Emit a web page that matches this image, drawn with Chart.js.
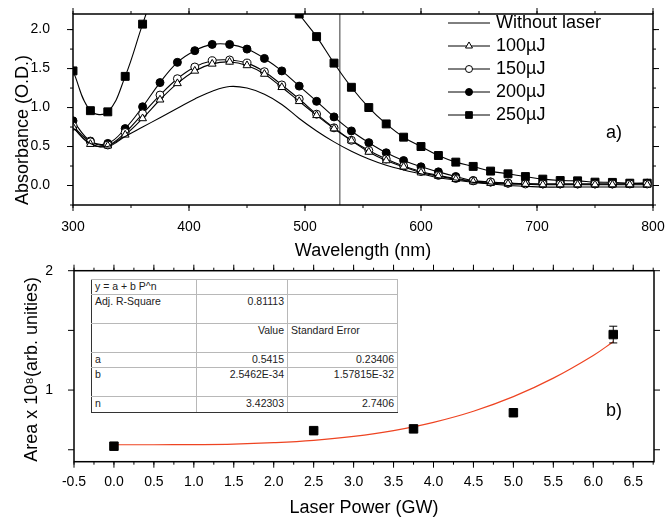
<!DOCTYPE html>
<html><head><meta charset="utf-8">
<script src="https://cdn.jsdelivr.net/npm/chart.js@4/dist/chart.umd.min.js"></script>
<style>
html,body{margin:0;padding:0;background:#fff;}
#wrap{position:relative;width:668px;height:519px;overflow:hidden;font-family:'Liberation Sans',Arial,sans-serif;}
#c1{position:absolute;left:0;top:0;}
#c2{position:absolute;left:0;top:262px;}
#fitTable{position:absolute;left:91px;top:279px;border-collapse:collapse;table-layout:fixed;font-size:10.5px;color:#222;background:#fff;
  border-left:1.5px solid #333;border-bottom:1.5px solid #333;}
#fitTable td{border:1.5px solid #b8b8b8;padding:0 3px;vertical-align:top;line-height:13px;white-space:nowrap;overflow:hidden;}
#fitTable td.l{text-align:left;}
#fitTable td.r{text-align:right;}
#fitTable tr td:first-child{border-left:1.5px solid #333;}
#fitTable tr:last-child td{border-bottom:1.5px solid #333;}
</style></head>
<body>
<div id="wrap">
<canvas id="c1" width="668" height="262"></canvas>
<canvas id="c2" width="668" height="257"></canvas>
<table id="fitTable"><colgroup><col style="width:105px"><col style="width:91px"><col style="width:110px"></colgroup><tbody id="fitBody"></tbody></table>
</div>
<script>
// ---------- Data: panel a) ----------
const wavelengthNm = [300,315,330,345,360,375,390,405,420,435,450,465,480,495,510,525,540,555,570,585,600,615,630,645,660,675,690,705,720,735,750,765,780,795];
const absNoLaser = [0.74,0.54,0.50,0.63,0.75,0.87,0.99,1.11,1.21,1.27, 1.25,1.17,1.04,0.86,0.70,0.56,0.44,0.34,0.26,0.20, 0.15,0.10,0.07,0.04,0.02,0.00,-0.01,-0.02,-0.02,-0.02, -0.02,-0.02,-0.02,-0.02];
const abs100uJ = [0.75,0.53,0.51,0.65,0.86,1.10,1.31,1.47,1.56,1.585, 1.54,1.43,1.26,1.08,0.90,0.73,0.575,0.43,0.32,0.24, 0.165,0.12,0.08,0.05,0.03,0.02,0.015,0.01,0.01,0.01, 0.01,0.01,0.01,0.01];
const abs150uJ = [0.76,0.56,0.52,0.68,0.92,1.16,1.37,1.52,1.60,1.61, 1.57,1.46,1.29,1.11,0.915,0.74,0.58,0.45,0.34,0.25, 0.18,0.13,0.09,0.06,0.045,0.03,0.02,0.02,0.02,0.02, 0.02,0.02,0.02,0.02];
const abs200uJ = [0.83,0.57,0.54,0.73,1.01,1.32,1.58,1.73,1.81,1.81, 1.75,1.63,1.47,1.275,1.08,0.88,0.70,0.55,0.42,0.32, 0.24,0.175,0.115,0.064,0.045,0.03,0.025,0.02,0.02,0.02, 0.02,0.02,0.025,0.03];
const abs250uJ = [1.47,0.96,0.945,1.40,2.07,2.70,3.20,3.50,3.60,3.55, 3.30,2.95,2.55,2.20,1.91,1.57,1.26,1.00,0.79,0.62, 0.50,0.385,0.30,0.245,0.185,0.15,0.115,0.082,0.064,0.06, 0.043,0.04,0.03,0.03];
const seriesLabels = ['Without laser','100\u00b5J','150\u00b5J','200\u00b5J','250\u00b5J'];
const markedWavelength = 530;

// ---------- Data: panel b) ----------
const laserPowerGW = [0, 2.5, 3.75, 5.0, 6.25];
const areaValues = [0.53, 0.66, 0.675, 0.81, 1.465];
const areaErrors = [0.01, 0.01, 0.015, 0.02, 0.07];
const fitPowerGW = [0, 0.5, 1, 1.5, 2, 2.5, 3, 3.5, 4, 4.5, 5, 5.5, 6, 6.25];
const fitArea = [0.542, 0.542, 0.543, 0.547, 0.559, 0.579, 0.612, 0.661, 0.730, 0.823, 0.945, 1.10, 1.29, 1.405];
const fitTableRows = [
  ['y = a + b P^n', '', ''],
  ['Adj. R-Square', '0.81113', ''],
  ['', 'Value', 'Standard Error'],
  ['a', '0.5415', '0.23406'],
  ['b', '2.5462E-34', '1.57815E-32'],
  ['n', '3.42303', '2.7406']
];

// ---------- table ----------
(function(){
  const rowH = [15, 29, 29, 15, 29, 16];
  const body = document.getElementById('fitBody');
  fitTableRows.forEach((r, i) => {
    const tr = document.createElement('tr');
    tr.style.height = rowH[i] + 'px';
    r.forEach((t, j) => {
      const td = document.createElement('td');
      td.textContent = t;
      td.className = (j === 0 || (i === 2 && j === 2)) ? 'l' : 'r';
      tr.appendChild(td);
    });
    body.appendChild(tr);
  });
})();

Chart.defaults.font.family = "'Liberation Sans', Arial, Helvetica, sans-serif";
Chart.defaults.color = '#000';
const FONT = "'Liberation Sans', Arial, Helvetica, sans-serif";

const frameTicks = {
  id: 'frameTicks',
  afterDraw(chart, args, o) {
    const {ctx, chartArea: a} = chart;
    const xs = chart.scales.x, ys = chart.scales.y;
    ctx.save();
    ctx.strokeStyle = '#000';
    ctx.lineWidth = 1;
    const each = (scale, step, fn) => {
      if (!step) return;
      const i0 = Math.ceil(scale.min / step - 1e-6), i1 = Math.floor(scale.max / step + 1e-6);
      for (let i = i0; i <= i1; i++) fn(scale.getPixelForValue(i * step));
    };
    const xt = (len) => (p) => { ctx.beginPath(); ctx.moveTo(p, a.bottom); ctx.lineTo(p, a.bottom + len); ctx.moveTo(p, a.top); ctx.lineTo(p, a.top - len); ctx.stroke(); };
    const yt = (len) => (p) => { ctx.beginPath(); ctx.moveTo(a.left, p); ctx.lineTo(a.left - len, p); ctx.moveTo(a.right, p); ctx.lineTo(a.right + len, p); ctx.stroke(); };
    each(xs, o.xMinor, xt(o.minorLen));
    each(xs, o.xMajor, xt(o.majorLen));
    each(ys, o.yMinor, yt(o.minorLen));
    each(ys, o.yMajor, yt(o.majorLen));
    ctx.lineWidth = 1.5;
    ctx.strokeRect(a.left, a.top, a.right - a.left, a.bottom - a.top);
    ctx.restore();
  }
};

const panelText = {
  id: 'panelText',
  afterDraw(chart, args, o) {
    const ctx = chart.ctx;
    ctx.save();
    ctx.fillStyle = '#000';
    ctx.font = '18px ' + FONT;
    ctx.textAlign = 'left'; ctx.textBaseline = 'middle';
    ctx.fillText(o.text, o.x, o.y);
    ctx.restore();
  }
};

const markerLine = {
  id: 'markerLine',
  beforeDatasetsDraw(chart, args, o) {
    if (o.value == null) return;
    const {ctx, chartArea: a} = chart;
    const px = chart.scales.x.getPixelForValue(o.value);
    ctx.save();
    ctx.strokeStyle = '#7a7a7a'; ctx.lineWidth = 1.5;
    ctx.beginPath(); ctx.moveTo(px, a.top); ctx.lineTo(px, a.bottom); ctx.stroke();
    ctx.restore();
  }
};

const lineLegend = {
  id: 'lineLegend',
  afterDraw(chart, args, o) {
    if (!o.x0) return;
    const ctx = chart.ctx;
    ctx.save();
    chart.data.datasets.forEach((ds, i) => {
      const y = o.y0 + i * o.dy;
      ctx.strokeStyle = '#000'; ctx.lineWidth = 1;
      ctx.beginPath(); ctx.moveTo(o.x0, y); ctx.lineTo(o.x1, y); ctx.stroke();
      if (ds.pointRadius > 0) {
        ctx.fillStyle = ds.pointBackgroundColor; ctx.strokeStyle = ds.pointBorderColor; ctx.lineWidth = 1;
        const r = ds.pointStyle === 'rect' ? o.r * 1.35 : (ds.pointStyle === 'triangle' ? o.r * 1.15 : o.r);
        Chart.helpers.drawPoint(ctx, {pointStyle: ds.pointStyle, radius: r, borderWidth: 1, rotation: 0}, (o.x0 + o.x1) / 2, y);
      }
      ctx.fillStyle = '#000'; ctx.font = o.font; ctx.textBaseline = 'middle'; ctx.textAlign = 'left';
      ctx.fillText(ds.label, o.tx, y);
    });
    ctx.restore();
  }
};

const errorBars = {
  id: 'errorBars',
  afterDatasetsDraw(chart, args, o) {
    if (!o.errors) return;
    const {ctx} = chart;
    const xs = chart.scales.x, ys = chart.scales.y;
    const ds = chart.data.datasets[o.datasetIndex];
    ctx.save();
    ctx.strokeStyle = '#000'; ctx.lineWidth = 1;
    ds.data.forEach((p, i) => {
      const e = o.errors[i];
      const px = xs.getPixelForValue(p.x);
      const y1 = ys.getPixelForValue(p.y + e), y2 = ys.getPixelForValue(p.y - e);
      ctx.beginPath();
      ctx.moveTo(px, y1); ctx.lineTo(px, y2);
      ctx.moveTo(px - 4, y1); ctx.lineTo(px + 4, y1);
      ctx.moveTo(px - 4, y2); ctx.lineTo(px + 4, y2);
      ctx.stroke();
    });
    ctx.restore();
  }
};

function noOverflowX(s) { s.paddingLeft = 0; s.paddingRight = 0; }
function noOverflowY(s) { s.paddingTop = 0; s.paddingBottom = 0; }

// move the plot area to a target rectangle by adjusting layout padding
function placeArea(chart, target) {
  for (let k = 0; k < 3; k++) {
    const a = chart.chartArea;
    const p = chart.options.layout.padding;
    const dt = target.top - a.top, dr = a.right - target.right;
    if (Math.abs(dt) < 0.05 && Math.abs(dr) < 0.05) break;
    p.top += dt; p.right += dr;
    chart.update('none');
  }
}

function xy(xsArr, ysArr) { return xsArr.map((x, i) => ({x: x, y: ysArr[i]})); }
function lineDs(label, data, style, fill, r) {
  return {
    label: label, data: xy(wavelengthNm, data),
    borderColor: '#000', borderWidth: 1.1, tension: 0.4,
    pointStyle: style || 'circle', pointRadius: r || 0,
    pointBackgroundColor: fill || '#000', pointBorderColor: '#000', pointBorderWidth: 1
  };
}

// ---------- Chart a) ----------
const chartA = new Chart(document.getElementById('c1'), {
  type: 'line',
  data: {
    datasets: [
      lineDs(seriesLabels[0], absNoLaser, 'circle', '#000', 0),
      lineDs(seriesLabels[1], abs100uJ, 'triangle', '#fff', 4.5),
      lineDs(seriesLabels[2], abs150uJ, 'circle', '#fff', 4),
      lineDs(seriesLabels[3], abs200uJ, 'circle', '#000', 4),
      lineDs(seriesLabels[4], abs250uJ, 'rect', '#000', 5.6)
    ]
  },
  options: {
    responsive: false, animation: false, devicePixelRatio: 1,
    layout: {padding: {top: 14, right: 15, left: 0, bottom: 0}},
    plugins: {
      legend: {display: false}, tooltip: {enabled: false},
      frameTicks: {xMajor: 100, xMinor: 50, yMajor: 0.5, yMinor: 0.25, majorLen: 6, minorLen: 3},
      panelText: {text: 'a)', x: 606, y: 133},
      markerLine: {value: markedWavelength},
      lineLegend: {x0: 448, x1: 490, tx: 496, y0: 23, dy: 23, r: 3.5, font: '18px ' + FONT}
    },
    scales: {
      x: {
        type: 'linear', min: 300, max: 800,
        grid: {display: false}, border: {display: false},
        ticks: {stepSize: 100, padding: 6, maxRotation: 0, font: {size: 14}, includeBounds: false},
        title: {display: true, text: 'Wavelength (nm)', font: {size: 18}, padding: {top: 0, bottom: 0}},
        afterFit(s) { s.height = 57; noOverflowX(s); }
      },
      y: {
        min: -0.25, max: 2.2,
        grid: {display: false}, border: {display: false},
        ticks: {stepSize: 0.5, padding: 15, font: {size: 14}, includeBounds: false, callback: v => v.toFixed(1)},
        title: {display: true, text: 'Absorbance (O.D.)', align: 'start', font: {size: 18}, padding: {top: 12, bottom: 0}},
        afterFit(s) { s.width = 73; noOverflowY(s); }
      }
    }
  },
  plugins: [markerLine, frameTicks, lineLegend, panelText]
});
placeArea(chartA, {top: 14, right: 653});

// ---------- Chart b) ----------
const chartB = new Chart(document.getElementById('c2'), {
  type: 'scatter',
  data: {
    datasets: [
      {label: 'Area', data: xy(laserPowerGW, areaValues), pointStyle: 'rect', pointRadius: 6,
       pointBackgroundColor: '#000', pointBorderColor: '#000', borderColor: '#000', showLine: false, order: 0},
      {label: 'Fit', data: xy(fitPowerGW, fitArea), showLine: true, pointRadius: 0,
       borderColor: '#ee4422', borderWidth: 1.2, tension: 0.4, order: 1}
    ]
  },
  options: {
    responsive: false, animation: false, devicePixelRatio: 1,
    layout: {padding: {top: 8.7, right: 14, left: 0, bottom: 0}},
    plugins: {
      legend: {display: false}, tooltip: {enabled: false},
      frameTicks: {xMajor: 0.5, xMinor: 0.25, yMajor: 0.5, yMinor: null, majorLen: 6, minorLen: 3},
      panelText: {text: 'b)', x: 606, y: 149},
      errorBars: {datasetIndex: 0, errors: areaErrors}
    },
    scales: {
      x: {
        type: 'linear', min: -0.5, max: 6.76,
        grid: {display: false}, border: {display: false},
        ticks: {stepSize: 0.5, padding: 4, maxRotation: 0, autoSkip: false, font: {size: 14}, includeBounds: false, callback: v => v.toFixed(1)},
        title: {display: true, text: 'Laser Power (GW)', font: {size: 18}, padding: {top: 0, bottom: 0}},
        afterFit(s) { s.height = 57.3; noOverflowX(s); }
      },
      y: {
        min: 0.4, max: 2,
        grid: {display: false}, border: {display: false},
        ticks: {stepSize: 0.5, padding: 13, font: {size: 14}, includeBounds: false, callback: v => (Math.abs(v - Math.round(v)) < 1e-6 ? String(Math.round(v)) : '')},
        title: {display: true, text: 'Area x 10\u2078(arb. unities)', align: 'start', font: {size: 18}, padding: {top: 21, bottom: 0}},
        afterFit(s) { s.width = 74; noOverflowY(s); }
      }
    }
  },
  plugins: [frameTicks, errorBars, panelText]
});
placeArea(chartB, {top: 8.7, right: 654});
</script>
</body></html>
